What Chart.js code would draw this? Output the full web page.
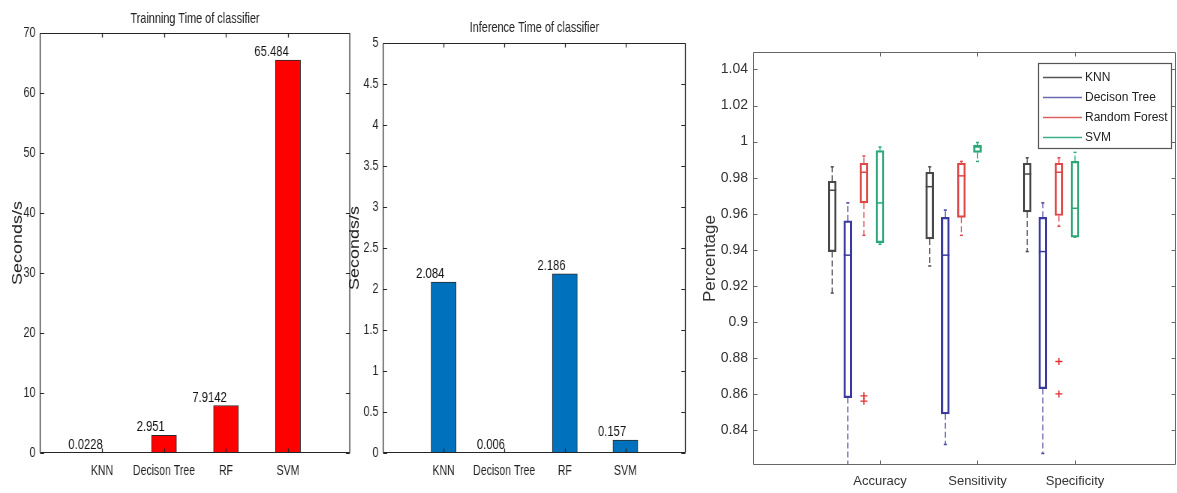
<!DOCTYPE html>
<html><head><meta charset="utf-8">
<script src="https://cdn.jsdelivr.net/npm/chart.js@4.4.1/dist/chart.umd.min.js"></script>
<style>
html,body{margin:0;padding:0;background:#fff;width:1177px;height:493px;overflow:hidden;position:relative;}
canvas{position:absolute;top:0;}
.sq{transform:scaleX(0.75);transform-origin:0 0;}
</style></head><body>
<canvas id="c1" class="sq" width="480" height="493" style="left:0"></canvas>
<canvas id="c2" class="sq" width="476" height="493" style="left:343px"></canvas>
<canvas id="c3" width="487" height="493" style="left:690px"></canvas>
<script>
// ---------- data ----------
const timeCategories = ['KNN', 'Decison Tree', 'RF', 'SVM'];
const trainTimes = [0.0228, 2.951, 7.9142, 65.484];
const trainValueLabels = ['0.0228', '2.951', '7.9142', '65.484'];
const trainTicks = [0, 10, 20, 30, 40, 50, 60, 70];
const inferTimes = [2.084, 0.006, 2.186, 0.157];
const inferValueLabels = ['2.084', '0.006', '2.186', '0.157'];
const inferTicks = [0, 0.5, 1, 1.5, 2, 2.5, 3, 3.5, 4, 4.5, 5];

const boxMetrics = ['Accuracy', 'Sensitivity', 'Specificity'];
const boxClassifiers = ['KNN', 'Decison Tree', 'Random Forest', 'SVM'];
// five-number summaries per metric: [min, q1, median, q3, max]
const knnBox = [[0.916, 0.939, 0.973, 0.978, 0.986], [0.931, 0.946, 0.975, 0.983, 0.986], [0.939, 0.961, 0.982, 0.988, 0.991]];
const dtBox  = [[0.820, 0.858, 0.937, 0.956, 0.966], [0.832, 0.849, 0.937, 0.958, 0.962], [0.827, 0.863, 0.939, 0.958, 0.966]];
const rfBox  = [[0.948, 0.966, 0.983, 0.988, 0.992], [0.948, 0.958, 0.981, 0.988, 0.989], [0.953, 0.959, 0.983, 0.988, 0.991]];
const svmBox = [[0.943, 0.944, 0.966, 0.995, 0.997], [0.989, 0.994, 0.997, 0.998, 0.9995], [0.947, 0.947, 0.963, 0.989, 0.994]];
const knnOutliers = [[], [], []];
const dtOutliers  = [[], [], []];
const rfOutliers  = [[0.859, 0.856], [], [0.878, 0.860]];
const svmOutliers = [[], [], []];
const pctTicks = [0.84, 0.86, 0.88, 0.9, 0.92, 0.94, 0.96, 0.98, 1, 1.02, 1.04];
const pctTickLabels = ['0.84', '0.86', '0.88', '0.9', '0.92', '0.94', '0.96', '0.98', '1', '1.02', '1.04'];

// ---------- styling ----------
const SANS = "'Liberation Sans', Arial, sans-serif";
const SQ = 0.75; // horizontal squeeze of the two bar panels (css scaleX)

const framePlugin = {
  id: 'frame',
  afterDraw(chart, args, o) {
    const { ctx, chartArea: a, scales } = chart;
    ctx.save();
    ctx.strokeStyle = o.color;
    const L = Math.round(a.left) + 0.5, R = Math.round(a.right) - 0.5, T = Math.round(a.top) + 0.5, B = Math.round(a.bottom) - 0.5;
    ctx.lineWidth = o.hw;
    ctx.beginPath(); ctx.moveTo(L, T); ctx.lineTo(R, T); ctx.moveTo(L, B); ctx.lineTo(R, B); ctx.stroke();
    ctx.lineWidth = o.vw;
    ctx.beginPath(); ctx.moveTo(L, T); ctx.lineTo(L, B); ctx.moveTo(R, T); ctx.lineTo(R, B);
    scales.x.ticks.forEach((t, i) => {
      if (t.label === '') return;
      const px = Math.round(scales.x.getPixelForTick(i)) + 0.5;
      ctx.moveTo(px, T); ctx.lineTo(px, T + o.lenV);
      ctx.moveTo(px, B); ctx.lineTo(px, B - o.lenV);
    });
    ctx.stroke();
    ctx.lineWidth = o.hw;
    ctx.beginPath();
    scales.y.ticks.forEach((t, i) => {
      const py = Math.round(scales.y.getPixelForTick(i)) + 0.5;
      ctx.moveTo(L, py); ctx.lineTo(L + o.lenH, py);
      ctx.moveTo(R, py); ctx.lineTo(R - o.lenH, py);
    });
    ctx.stroke();
    ctx.restore();
  }
};

const valuePlugin = {
  id: 'valueLabels',
  afterDatasetsDraw(chart, args, o) {
    const ctx = chart.ctx;
    chart.data.datasets.forEach((ds, di) => {
      if (!ds.valueLabels) return;
      chart.getDatasetMeta(di).data.forEach((el, i) => {
        const t = ds.valueLabels[i];
        if (t == null) return;
        ctx.save();
        ctx.font = o.font; ctx.fillStyle = '#111';
        ctx.textAlign = 'right'; ctx.textBaseline = 'alphabetic';
        ctx.fillText(t, el.x + 1, el.y - 4);
        ctx.restore();
      });
    });
  }
};

// page-space geometry converted to the squeezed canvas space
function timeChart(id, title, titlePad, values, labels, ticks, yMax, color, axisW, rightPad, yTitlePad) {
  return new Chart(document.getElementById(id), {
    type: 'bar',
    data: {
      labels: ['', ...timeCategories, ''],
      datasets: [{
        data: [null, ...values, null],
        valueLabels: [null, ...labels, null],
        backgroundColor: color, borderColor: '#2a2a2a', borderWidth: 1,
        borderSkipped: false, barThickness: 25 / SQ
      }]
    },
    options: {
      responsive: false, animation: false, devicePixelRatio: 1,
      layout: { autoPadding: false, padding: { left: 0, right: rightPad / SQ, top: 0, bottom: 0 } },
      plugins: {
        legend: { display: false }, tooltip: { enabled: false },
        title: { display: true, text: title, fullSize: false, color: '#222',
          font: { family: SANS, size: 14.5, weight: 'normal' }, padding: titlePad },
        frame: { color: '#262626', lenV: 4, lenH: 4 / SQ, hw: 1, vw: 1.3 },
        valueLabels: { font: '15px ' + SANS }
      },
      scales: {
        x: {
          offset: false,
          grid: { display: false, drawTicks: false }, border: { display: false },
          ticks: { font: { family: SANS, size: 14 }, color: '#222', padding: 10, autoSkip: false, maxRotation: 0 },
          afterFit(s) { s.height = 40; s.paddingLeft = 0; s.paddingRight = 0; }
        },
        y: {
          min: 0, max: yMax,
          afterBuildTicks(s) { s.ticks = ticks.map(v => ({ value: v })); },
          grid: { display: false, drawTicks: false }, border: { display: false },
          ticks: { font: { family: SANS, size: 14.5 }, color: '#222', padding: 6, callback: v => String(v) },
          title: { display: true, text: 'Seconds/s', color: '#222', font: { family: SANS, size: 18 }, padding: { top: yTitlePad, bottom: 0 } },
          afterFit(s) { s.width = axisW / SQ; }
        }
      }
    },
    plugins: [framePlugin, valuePlugin]
  });
}

timeChart('c1', 'Trainning Time of classifier', { top: 10, bottom: 5.6 }, trainTimes, trainValueLabels, trainTicks, 70, '#ff0000', 40, 10, 13);
timeChart('c2', 'Inference Time of classifier', { top: 19, bottom: 6.6 }, inferTimes, inferValueLabels, inferTicks, 5, '#0072bd', 40, 14, 5);

// ---------- box plot ----------
const boxColors = ['#474747', '#3a3a9e', '#e04848', '#2ca878'];
const whiskerColors = ['#555555', '#6a6ab0', '#e06060', '#3cb088'];
const groupOffsets = [-0.49, -0.33, -0.165, 0];
const boxSets = [knnBox, dtBox, rfBox, svmBox];
const outSets = [knnOutliers, dtOutliers, rfOutliers, svmOutliers];

const datasets = [];
boxSets.forEach((set, k) => {
  const xs = boxMetrics.map((m, i) => i + 1 + groupOffsets[k]);
  datasets.push({
    type: 'bar', label: boxClassifiers[k],
    data: set.map((s, i) => ({ x: xs[i], y: [s[1], s[3]] })),
    backgroundColor: 'rgba(255,255,255,0)', borderColor: boxColors[k], borderWidth: 1.5,
    borderSkipped: false, barThickness: 8, grouped: false
  });
  const wd = [];
  set.forEach((s, i) => {
    wd.push({ x: xs[i], y: s[1] }, { x: xs[i], y: s[0] }, { x: xs[i], y: null });
    wd.push({ x: xs[i], y: s[3] }, { x: xs[i], y: s[4] }, { x: xs[i], y: null });
  });
  datasets.push({
    type: 'line', data: wd, borderColor: whiskerColors[k], borderWidth: 1.2, borderDash: [6, 3],
    pointRadius: 0, spanGaps: false, fill: false
  });
  const caps = [];
  set.forEach((s, i) => { caps.push({ x: xs[i], y: s[0] }, { x: xs[i], y: s[4] }); });
  datasets.push({
    type: 'scatter', data: caps, pointStyle: 'line', pointRadius: 1.5, borderColor: boxColors[k], borderWidth: 1.5
  });
  datasets.push({
    type: 'scatter', data: set.map((s, i) => ({ x: xs[i], y: s[2] })),
    pointStyle: 'line', pointRadius: 4, borderColor: boxColors[k], borderWidth: 1.5
  });
  const outs = [];
  outSets[k].forEach((arr, i) => arr.forEach(v => outs.push({ x: xs[i], y: v })));
  datasets.push({
    type: 'scatter', data: outs, pointStyle: 'cross', pointRadius: 3.5, borderColor: '#e03030', borderWidth: 1.3
  });
});

const legendPlugin = {
  id: 'boxLegend',
  afterDraw(chart) {
    const { ctx, chartArea: a } = chart;
    const x0 = Math.round(a.right - 138), y0 = Math.round(a.top + 11), w = 133, h = 85;
    ctx.save();
    ctx.fillStyle = '#fff'; ctx.fillRect(x0, y0, w, h);
    ctx.strokeStyle = '#555'; ctx.lineWidth = 1.2; ctx.strokeRect(x0 + 0.5, y0 + 0.5, w, h);
    ctx.font = '12px ' + SANS; ctx.textBaseline = 'middle'; ctx.textAlign = 'left';
    boxClassifiers.forEach((name, k) => {
      const y = Math.round(y0 + 14 + k * 20) + 0.5;
      ctx.strokeStyle = whiskerColors[k]; ctx.lineWidth = 1.3;
      ctx.beginPath(); ctx.moveTo(x0 + 5, y); ctx.lineTo(x0 + 44, y); ctx.stroke();
      ctx.fillStyle = '#222'; ctx.fillText(name, x0 + 47, y);
    });
    ctx.restore();
  }
};

new Chart(document.getElementById('c3'), {
  type: 'bar',
  data: { datasets },
  options: {
    responsive: false, animation: false, devicePixelRatio: 1,
    layout: { autoPadding: false, padding: { left: 0, right: 1, top: 52, bottom: 0 } },
    plugins: { legend: { display: false }, tooltip: { enabled: false }, frame: { color: '#666', lenV: 4, lenH: 4, hw: 1, vw: 1 } },
    scales: {
      x: {
        type: 'linear', min: -0.3026, max: 4.036, offset: false,
        afterBuildTicks(s) { s.ticks = boxMetrics.map((m, i) => ({ value: i + 1 })); },
        grid: { display: false, drawTicks: false }, border: { display: false },
        ticks: { callback: (v, i) => boxMetrics[i], font: { family: SANS, size: 13 }, color: '#333', padding: 9, autoSkip: false, maxRotation: 0 },
        afterFit(s) { s.height = 28; s.paddingLeft = 0; s.paddingRight = 0; }
      },
      y: {
        min: 0.8206, max: 1.0497,
        afterBuildTicks(s) { s.ticks = pctTicks.map(v => ({ value: v })); },
        grid: { display: false, drawTicks: false }, border: { display: false },
        ticks: { callback: (v, i) => pctTickLabels[i], font: { family: SANS, size: 14 }, color: '#333', padding: 5 },
        title: { display: true, text: 'Percentage', color: '#333', font: { family: SANS, size: 17 }, padding: { top: 10, bottom: 0 } },
        afterFit(s) { s.width = 63; }
      }
    }
  },
  plugins: [framePlugin, legendPlugin]
});
</script>
</body></html>
